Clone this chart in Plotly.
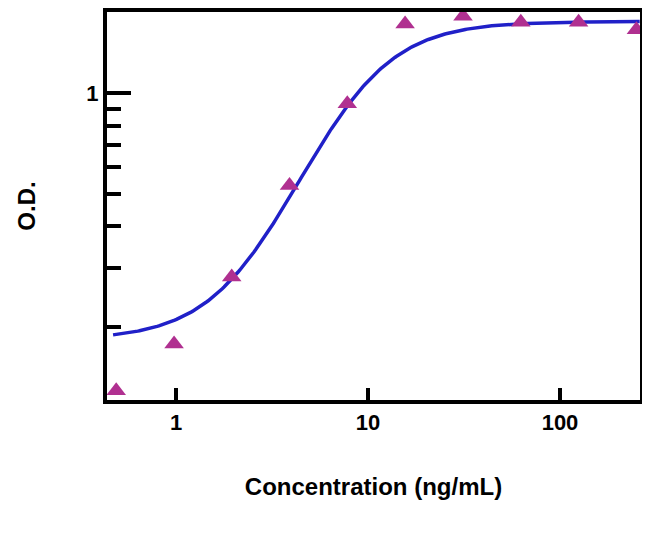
import numpy as np
import plotly.graph_objects as go

conc = [0.488, 0.977, 1.95, 3.9, 7.8, 15.6, 31.25, 62.5, 125, 250]
od = [0.129, 0.178, 0.282, 0.53, 0.93, 1.61, 1.70, 1.63, 1.63, 1.55]

# 4PL fit parameters
bottom, top, ec50, hill = 0.183, 1.64, 7.75, 1.93
xc = np.logspace(np.log10(0.47), np.log10(260), 300)
yc = bottom + (top - bottom) / (1 + (ec50 / xc) ** hill)

fig = go.Figure()
fig.add_trace(go.Scatter(x=xc, y=yc, mode="lines", line=dict(color="#2020c8", width=3.5), hoverinfo="skip"))
fig.add_trace(go.Scatter(x=conc, y=od, mode="markers", cliponaxis=False,
                         marker=dict(symbol="triangle-up", size=17, color="#b03090")))
fig.update_layout(
    width=650, height=537, showlegend=False, plot_bgcolor="white", paper_bgcolor="white",
    margin=dict(l=99, r=18, t=0, b=145),
    font=dict(family="Liberation Sans", color="black"),
    xaxis=dict(type="log", range=[np.log10(0.437), np.log10(261)], tickvals=[1, 10, 100],
               ticktext=["<b>1</b>", "<b>10</b>", "<b>100</b>"], ticks="inside", ticklen=12, tickwidth=4,
               tickcolor="black",
               showline=True, mirror=True, linewidth=4, linecolor="black", showgrid=False, zeroline=False,
               tickfont=dict(size=22, color="black"),
               title=dict(text="<b>Concentration (ng/mL)</b>", font=dict(size=24), standoff=45)),
    yaxis=dict(type="log", range=[np.log10(0.121), np.log10(1.75)], tickvals=[1], ticktext=["<b>1</b>"],
               ticks="inside", ticklen=24, tickwidth=4, tickcolor="black",
               minor=dict(ticks="inside", ticklen=14, tickwidth=4, dtick="D1", tickcolor="black"),
               showline=True, mirror=True, linewidth=4, linecolor="black", showgrid=False, zeroline=False,
               tickfont=dict(size=22, color="black"),
               title=dict(text="<b>O.D.</b>", font=dict(size=24), standoff=45)),
)
fig.write_html("out.html")
